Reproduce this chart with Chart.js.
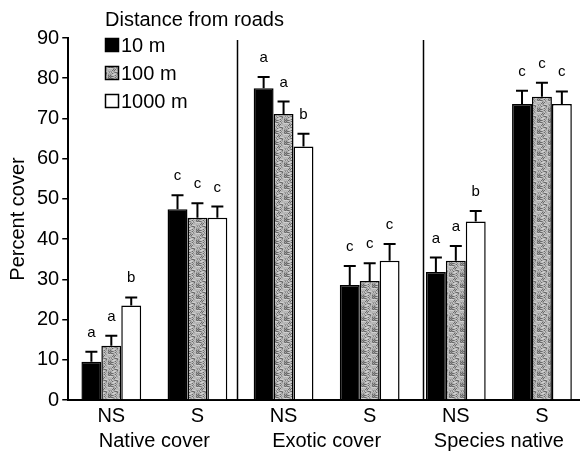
<!DOCTYPE html>
<html lang="en">
<head>
    <meta charset="UTF-8">
    <title>Percent cover by distance from roads</title>
    <script src="https://cdn.jsdelivr.net/npm/chart.js@4/dist/chart.umd.min.js"></script>
    <style>
        body { margin: 0; background: #fff; }
        #wrap { width: 580px; height: 451px; overflow: hidden; }
    </style>
</head>
<body>
    <div id="wrap">
        <canvas id="chart" width="588" height="451"></canvas>
    </div>

<script>
    const categories = ['NS', 'S', 'NS', 'S', 'NS', 'S'];
    const groups = ['Native cover', 'Exotic cover', 'Species native'];

    const cover10 = [9.5, 47.4, 77.5, 28.6, 31.8, 73.6];
    const cover100 = [13.5, 45.3, 71.1, 29.6, 34.6, 75.4];
    const cover1000 = [23.5, 45.3, 63.0, 34.6, 44.4, 73.6];

    // upper error (SE) above each bar
    const err10 = [2.5, 3.5, 2.8, 4.7, 3.6, 3.3];
    const err100 = [2.5, 3.6, 3.1, 4.4, 3.7, 3.5];
    const err1000 = [2.0, 2.8, 3.2, 4.2, 2.6, 3.1];

    const sig10 = ['a', 'c', 'a', 'c', 'a', 'c'];
    const sig100 = ['a', 'c', 'a', 'c', 'a', 'c'];
    const sig1000 = ['b', 'c', 'b', 'c', 'b', 'c'];

    const yMin = 0, yMax = 90, yStep = 10;
    const sepAt = [1.46, 3.62];   // divider lines between the three groups

    const FONT = '"Liberation Sans", Arial, Helvetica, sans-serif';

    // stippled gray like the printed figure
    function stipple() {
        const n = 11;
        const c = document.createElement('canvas');
        c.width = c.height = n;
        const g = c.getContext('2d');
        const tones = ['#6a6a6a', '#9a9a9a', '#b0b0b0', '#c4c4c4', '#a4a4a4', '#888888', '#bababa', '#d0d0d0', '#a8a8a8'];
        for (let i = 0; i < n; i++)
            for (let j = 0; j < n; j++) {
                const h = (i * i * 7 + j * j * 3 + i * j * 5 + i + 2 * j) % 9;
                g.fillStyle = tones[h];
                g.fillRect(i, j, 1, 1);
            }
        return g.createPattern(c, 'repeat');
    }
    const gray = stipple();

    const extras = {
        id: 'extras',
        afterDatasetsDraw(chart) {
            const ctx = chart.ctx;
            const x = chart.scales.x, y = chart.scales.y, area = chart.chartArea;
            ctx.save();
            ctx.strokeStyle = '#000';
            ctx.fillStyle = '#000';

            // group dividers
            ctx.lineWidth = 1.5;
            sepAt.forEach(v => {
                const px = Math.round(x.getPixelForValue(v)) + 0.5;
                ctx.beginPath();
                ctx.moveTo(px, area.top + 2);
                ctx.lineTo(px, area.bottom);
                ctx.stroke();
            });

            // error bars + letters
            ctx.font = '15px ' + FONT;
            ctx.textAlign = 'center';
            ctx.textBaseline = 'alphabetic';
            chart.data.datasets.forEach((ds, i) => {
                const meta = chart.getDatasetMeta(i);
                meta.data.forEach((bar, j) => {
                    const top = y.getPixelForValue(ds.data[j] + ds.err[j]);
                    ctx.lineWidth = 2;
                    ctx.beginPath();
                    ctx.moveTo(bar.x, bar.y);
                    ctx.lineTo(bar.x, top);
                    ctx.moveTo(bar.x - 6, top);
                    ctx.lineTo(bar.x + 6, top);
                    ctx.stroke();
                    ctx.fillText(ds.sig[j], bar.x, top - 15);
                });
            });

            // legend
            ctx.textAlign = 'left';
            ctx.textBaseline = 'middle';
            ctx.font = '20px ' + FONT;
            ctx.fillText('Distance from roads', 105, 20);
            chart.data.datasets.forEach((ds, i) => {
                const cy = 45 + i * 28;
                ctx.fillStyle = ds.backgroundColor;
                ctx.fillRect(105.5, cy - 6.5, 13, 13);
                ctx.lineWidth = 1.5;
                ctx.strokeRect(105.5, cy - 6.5, 13, 13);
                ctx.fillStyle = '#000';
                ctx.fillText(ds.label, 121, cy + 1);
            });
            ctx.restore();
        }
    };

    const chart = new Chart(document.querySelector('#chart'), {
        type: 'bar',
        data: {
            labels: categories,
            datasets: [
                { label: '10 m', data: cover10, err: err10, sig: sig10, backgroundColor: '#000' },
                { label: '100 m', data: cover100, err: err100, sig: sig100, backgroundColor: gray },
                { label: '1000 m', data: cover1000, err: err1000, sig: sig1000, backgroundColor: '#fff' }
            ].map(d => Object.assign(d, {
                borderColor: '#000',
                borderWidth: 1.5,
                categoryPercentage: 0.694,
                barPercentage: 1
            }))
        },
        options: {
            responsive: false,
            animation: false,
            layout: { padding: { top: 38, left: 6, right: 3, bottom: 0 } },
            plugins: { legend: { display: false }, tooltip: { enabled: false } },
            scales: {
                x: {
                    grid: { display: false, drawTicks: false },
                    border: { color: '#000', width: 2 },
                    ticks: {
                        color: '#000', autoSkip: false, maxRotation: 0, padding: 5,
                        font: { family: FONT, size: 20, lineHeight: 1.1 }
                    },
                    afterFit: s => { s.height = 26; }
                },
                x2: {
                    type: 'category',
                    labels: groups,
                    offset: true,
                    position: 'bottom',
                    grid: { display: false, drawTicks: false },
                    border: { display: false },
                    ticks: {
                        color: '#000', autoSkip: false, maxRotation: 0, padding: 4,
                        font: { family: FONT, size: 20, lineHeight: 1.1 }
                    },
                    afterFit: s => { s.height = 25; }
                },
                y: {
                    min: yMin,
                    max: yMax,
                    ticks: {
                        stepSize: yStep, color: '#000', padding: 3,
                        font: { family: FONT, size: 20 }
                    },
                    grid: { drawOnChartArea: false, drawTicks: true, tickLength: 6, color: '#000', lineWidth: 1.5 },
                    border: { color: '#000', width: 2 },
                    title: {
                        display: true, text: 'Percent cover', color: '#000',
                        font: { family: FONT, size: 20 }, padding: { top: 0, bottom: 4 }
                    }
                }
            }
        },
        plugins: [extras]
    });
</script>
</body>
</html>
